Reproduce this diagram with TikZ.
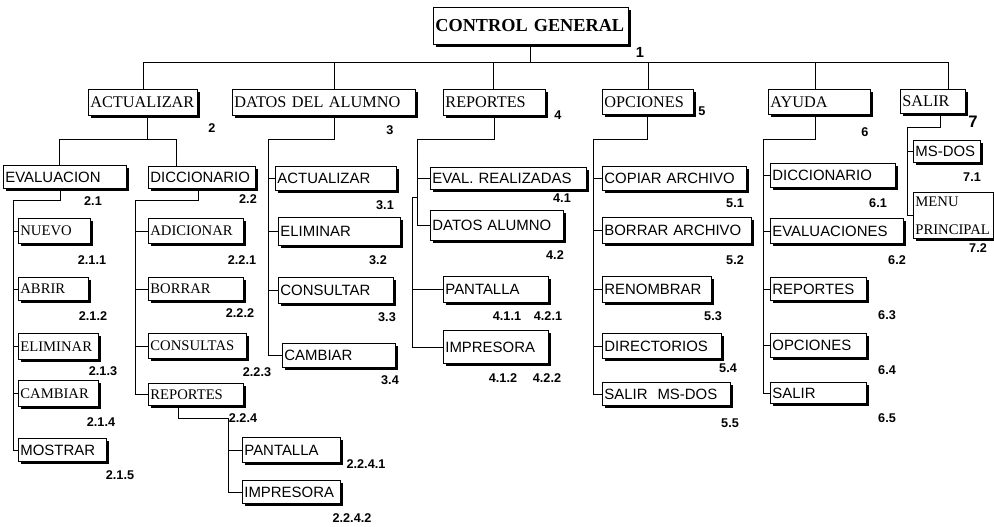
\documentclass[tikz,border=0pt]{standalone}
\usepackage{fontspec}
\setmainfont{Liberation Serif}
\setsansfont{Liberation Sans}
\usetikzlibrary{shadows}
\hyphenpenalty=10000
\exhyphenpenalty=10000

\begin{document}
\begin{tikzpicture}[x=0.75pt, y=-0.75pt, line width=0.6pt,
    caja/.style={draw, fill=white, anchor=north west, inner sep=1.5pt, align=left,
        drop shadow={shadow xshift=2pt, shadow yshift=-2pt, fill=black, opacity=1}},
    tam/.code 2 args={\pgfmathsetmacro\anchoC{#1*0.75-3}\pgfmathsetmacro\altoC{#2*0.75}%
        \tikzset{text width=\anchoC pt, minimum height=\altoC pt}},
    tit/.style={font=\fontsize{13.7}{16}\selectfont\bfseries},
    nivel/.style={font=\fontsize{12.2}{14}\selectfont},
    romana/.style={font=\fontsize{11}{13}\selectfont},
    palo/.style={font=\fontsize{11.2}{13}\selectfont\sffamily},
    num/.style={font=\fontsize{9.5}{11}\selectfont\sffamily\bfseries, inner sep=0pt}]

        \path[use as bounding box, fill=white] (0,0) rectangle (994,526);

        \node (cg) at (433, 7) [caja, tit, tam={195}{37}] {CONTROL GENERAL};

        \node (act) at (88, 89) [caja, nivel, tam={109}{26}] {ACTUALIZAR};
        \node (dat) at (232, 89) [caja, nivel, tam={183}{26}] {DATOS DEL ALUMNO};
        \node (rep) at (443, 89) [caja, nivel, tam={102}{26}] {REPORTES};
        \node (opc) at (602, 89) [caja, nivel, tam={91}{25}] {OPCIONES};
        \node (ayu) at (768, 89) [caja, nivel, tam={102}{25}] {AYUDA};
        \node (sal) at (900, 89) [caja, nivel, tam={65}{24}] {SALIR};

        \node (eva) at (3, 165) [caja, palo, tam={123}{23}] {EVALUACION};
        \node (dic) at (148, 166) [caja, palo, tam={107}{22}] {DICCIONARIO};

        \node (nue) at (18, 218) [caja, romana, tam={72}{25}] {NUEVO};
        \node (abr) at (18, 277) [caja, romana, tam={70}{23}] {ABRIR};
        \node (eli) at (18, 333) [caja, romana, tam={80}{26}] {ELIMINAR};
        \node (cam) at (18, 380) [caja, romana, tam={80}{26}] {CAMBIAR};
        \node (mos) at (18, 438) [caja, palo, tam={88}{23}] {MOSTRAR};

        \node (adi) at (148, 218) [caja, romana, tam={95}{25}] {ADICIONAR};
        \node (bor) at (148, 277) [caja, romana, tam={95}{23}] {BORRAR};
        \node (con) at (148, 333) [caja, romana, tam={98}{25}] {CONSULTAS};
        \node (rpt) at (148, 383) [caja, romana, tam={95}{22}] {REPORTES};

        \node (pan2) at (242, 437) [caja, palo, tam={98}{25}] {PANTALLA};
        \node (imp2) at (242, 480) [caja, palo, tam={98}{23}] {IMPRESORA};

        \node (act3) at (275, 166) [caja, palo, tam={121}{24}] {ACTUALIZAR};
        \node (eli3) at (278, 217) [caja, palo, tam={122}{28}] {ELIMINAR};
        \node (con3) at (278, 277) [caja, palo, tam={115}{26}] {CONSULTAR};
        \node (cam3) at (282, 343) [caja, palo, tam={113}{24}] {CAMBIAR};

        \node (evr) at (430, 167) [caja, palo, tam={156}{22}] {EVAL. REALIZADAS};
        \node (dal) at (430, 210) [caja, palo, tam={133}{30}] {DATOS ALUMNO};
        \node (pan4) at (443, 276) [caja, palo, tam={105}{26}] {PANTALLA};
        \node (imp4) at (443, 330) [caja, palo, tam={105}{33}] {IMPRESORA};

        \node (cop) at (602, 166) [caja, palo, tam={144}{24}] {COPIAR ARCHIVO};
        \node (bar) at (602, 217) [caja, palo, tam={149}{26}] {BORRAR ARCHIVO};
        \node (ren) at (602, 276) [caja, palo, tam={109}{26}] {RENOMBRAR};
        \node (dir) at (602, 333) [caja, palo, tam={119}{25}] {DIRECTORIOS};
        \node (sms) at (602, 382) [caja, palo, tam={128}{23}] {SALIR\ \ MS-DOS};

        \node (dic6) at (770, 163) [caja, palo, tam={125}{24}] {DICCIONARIO};
        \node (eva6) at (770, 218) [caja, palo, tam={133}{25}] {EVALUACIONES};
        \node (rep6) at (770, 277) [caja, palo, tam={96}{23}] {REPORTES};
        \node (opc6) at (770, 333) [caja, palo, tam={96}{24}] {OPCIONES};
        \node (sal6) at (770, 382) [caja, palo, tam={96}{21}] {SALIR};

        \node (msd) at (913, 140) [caja, palo, tam={67}{22}] {MS-DOS};
        \node (men) at (913, 192) [caja, romana, tam={80}{46}, font=\fontsize{11}{21}\selectfont] {MENU\\PRINCIPAL};

        \foreach \n/\x in {act/143, dat/334, rep/493, opc/648, ayu/815, sal/948}
            \draw (cg.south -| 530,0) -- (530,62) -| (\n.north -| \x,0);

        \draw (act.south -| 147,0) |- (59,139) -- (eva.north -| 59,0);
        \draw (act.south -| 147,0) |- (176,139) -- (dic.north -| 176,0);
        \foreach \n in {nue,abr,eli,cam,mos}
            \draw (eva.south -| 60,0) |- (13,200) |- (\n.west);
        \foreach \n in {adi,bor,con,rpt}
            \draw (dic.south -| 198,0) |- (135,200) |- (\n.west);
        \foreach \n in {pan2,imp2}
            \draw (rpt.south -| 178,0) |- (228,418) |- (\n.west);

        \foreach \n in {act3,eli3,con3,cam3}
            \draw (dat.south -| 334,0) |- (268,139) |- (\n.west);

        \foreach \n in {evr,dal}
            \draw (rep.south -| 494,0) |- (417,139) |- (\n.west);
        \foreach \n in {pan4,imp4}
            \draw (rep.south -| 494,0) |- (417,139) -- (417,197) -- (412,197) |- (\n.west);

        \foreach \n in {cop,bar,ren,dir,sms}
            \draw (opc.south -| 647,0) |- (593,139) |- (\n.west);
        \foreach \n in {dic6,eva6,rep6,opc6,sal6}
            \draw (ayu.south -| 815,0) |- (763,139) |- (\n.west);
        \foreach \n in {msd,men}
            \draw (sal.south -| 940,0) |- (907,127) |- (\n.west);

        \node (n1) at (640, 52) [num, font=\fontsize{11}{13}\selectfont\sffamily\bfseries] {1};
        \node (n2) at (212, 128) [num] {2};
        \node (n3) at (390, 130) [num] {3};
        \node (n4) at (558, 115) [num] {4};
        \node (n5) at (702, 111) [num] {5};
        \node (n6) at (865, 132) [num] {6};
        \node (n7) at (973, 122) [num, font=\fontsize{12.5}{14}\selectfont\sffamily\bfseries] {7};

        \node (n21) at (93, 201) [num] {2.1};
        \node (n22) at (248, 199) [num] {2.2};
        \node (n211) at (92, 260) [num] {2.1.1};
        \node (n212) at (93, 316) [num] {2.1.2};
        \node (n213) at (103, 371) [num] {2.1.3};
        \node (n214) at (101, 422) [num] {2.1.4};
        \node (n215) at (120, 475) [num] {2.1.5};
        \node (n221) at (242, 260) [num] {2.2.1};
        \node (n222) at (240, 313) [num] {2.2.2};
        \node (n223) at (257, 372) [num] {2.2.3};
        \node (n224) at (243, 418) [num] {2.2.4};
        \node (n2241) at (366, 464) [num] {2.2.4.1};
        \node (n2242) at (352, 518) [num] {2.2.4.2};

        \node (n31) at (385, 205) [num] {3.1};
        \node (n32) at (378, 260) [num] {3.2};
        \node (n33) at (387, 317) [num] {3.3};
        \node (n34) at (390, 380) [num] {3.4};

        \node (n41) at (562, 198) [num] {4.1};
        \node (n42) at (555, 255) [num] {4.2};
        \node (n411) at (507, 316) [num] {4.1.1};
        \node (n421) at (548, 316) [num] {4.2.1};
        \node (n412) at (503, 378) [num] {4.1.2};
        \node (n422) at (547, 378) [num] {4.2.2};

        \node (n51) at (735, 203) [num] {5.1};
        \node (n52) at (735, 260) [num] {5.2};
        \node (n53) at (713, 316) [num] {5.3};
        \node (n54) at (728, 368) [num] {5.4};
        \node (n55) at (730, 423) [num] {5.5};

        \node (n61) at (878, 203) [num] {6.1};
        \node (n62) at (897, 260) [num] {6.2};
        \node (n63) at (887, 315) [num] {6.3};
        \node (n64) at (887, 370) [num] {6.4};
        \node (n65) at (887, 418) [num] {6.5};

        \node (n71) at (972, 177) [num] {7.1};
        \node (n72) at (978, 248) [num] {7.2};

    \end{tikzpicture}
\end{document}
